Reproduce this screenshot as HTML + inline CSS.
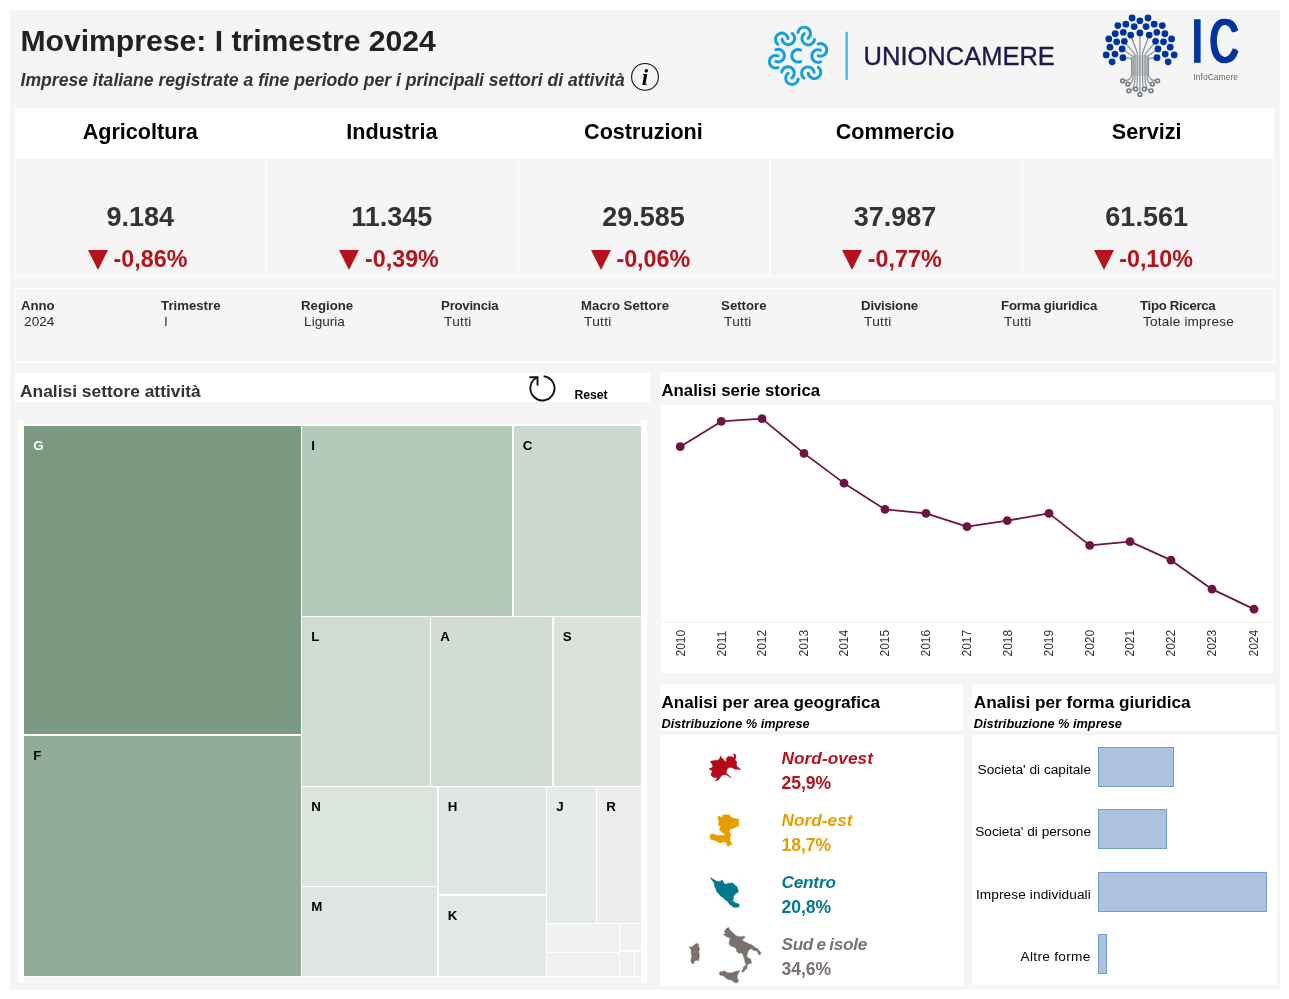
<!DOCTYPE html>
<html lang="it">
<head>
<meta charset="utf-8">
<title>Movimprese: I trimestre 2024</title>
<style>
html,body{margin:0;padding:0;background:#fff;}
body{width:1289px;height:999px;position:relative;overflow:hidden;font-family:"Liberation Sans",sans-serif;color:#333;}
.b{position:absolute;}
.t{position:absolute;white-space:nowrap;}
.bd{font-weight:bold;}
.it{font-style:italic;}
.k{color:#000;}
svg{position:absolute;overflow:visible;}
</style>
</head>
<body>

<div class="b " style="left:10px;top:10px;width:1270px;height:980px;background:#f5f5f5;"></div>
<header>
<div class="t bd" style="top:26.00px;font-size:30.15px;line-height:30.15px;left:20.4px;color:#222;">Movimprese: I trimestre 2024</div>
<div class="t bd it" style="top:72.00px;font-size:17.6px;line-height:17.6px;left:20.5px;color:#333;">Imprese italiane registrate a fine periodo per i principali settori di attività</div>
<svg style="left:630px;top:62px" width="30" height="30" viewBox="0 0 30 30"><circle cx="15" cy="14.9" r="13.4" fill="none" stroke="#111" stroke-width="1.1"/><text x="15" y="22.8" text-anchor="middle" font-family="Liberation Serif, serif" font-style="italic" font-weight="bold" font-size="23" fill="#000">i</text></svg>
<svg style="left:0;top:0" width="1289" height="110" viewBox="0 0 1289 110">
<g fill="none" stroke="#149fdc" stroke-width="2.9" stroke-linecap="round" transform="translate(798.1 55.8)">
<path d="M2.56 5.76A6.3 6.3 0 1 1 2.56 -5.76"/>
<g transform="rotate(0)">
<path d="M22.36 6.04A6.3 6.3 0 1 1 22.36 -5.64"/>
<path d="M20.04 -11.74A6.3 6.3 0 1 1 20.04 -0.06"/>
</g>
<g transform="rotate(-60)">
<path d="M22.36 6.04A6.3 6.3 0 1 1 22.36 -5.64"/>
<path d="M20.04 -11.74A6.3 6.3 0 1 1 20.04 -0.06"/>
</g>
<g transform="rotate(-120)">
<path d="M22.36 6.04A6.3 6.3 0 1 1 22.36 -5.64"/>
<path d="M20.04 -11.74A6.3 6.3 0 1 1 20.04 -0.06"/>
</g>
<g transform="rotate(-180)">
<path d="M22.36 6.04A6.3 6.3 0 1 1 22.36 -5.64"/>
<path d="M20.04 -11.74A6.3 6.3 0 1 1 20.04 -0.06"/>
</g>
<g transform="rotate(-240)">
<path d="M22.36 6.04A6.3 6.3 0 1 1 22.36 -5.64"/>
<path d="M20.04 -11.74A6.3 6.3 0 1 1 20.04 -0.06"/>
</g>
<g transform="rotate(-300)">
<path d="M22.36 6.04A6.3 6.3 0 1 1 22.36 -5.64"/>
<path d="M20.04 -11.74A6.3 6.3 0 1 1 20.04 -0.06"/>
</g>
</g>
<rect x="845.5" y="31.8" width="2.4" height="48" fill="#4db8ea"/>
<text x="863.6" y="64.9" font-family="Liberation Sans, sans-serif" font-size="25.5" fill="#1c1a4a" stroke="#1c1a4a" stroke-width="0.35">UNIONCAMERE</text>
<g fill="none" stroke="#8b9197" stroke-width="1.25">
<path d="M1130.7 35.1L1137.3 52.7L1137.3 76.5Q1137.3 89.1 1135.7 89.1"/>
<path d="M1139.9 32.9L1139.9 52.7L1139.9 76.5Q1139.9 94.4 1139.9 94.4"/>
<path d="M1149.2 35.1L1142.6 52.7L1142.6 76.5Q1142.6 89.1 1144.2 89.1"/>
<path d="M1124.3 41.3L1135.0 54.6L1135.0 76.5Q1135.0 90.8 1128.8 90.8"/>
<path d="M1155.6 41.3L1145.0 54.6L1145.0 76.5Q1145.0 90.8 1151.1 90.8"/>
<path d="M1122.1 48.9L1133.1 56.5L1133.1 76.0Q1133.1 84.1 1127.8 84.1"/>
<path d="M1158.0 48.9L1147.1 56.5L1147.1 76.0Q1147.1 84.1 1152.4 84.1"/>
<path d="M1122.9 57.7L1131.6 58.4L1131.6 74.6Q1131.6 80.8 1122.6 80.8"/>
<path d="M1157.0 57.7L1148.5 58.4L1148.5 74.6Q1148.5 80.8 1157.6 80.8"/>
</g>
<rect x="1131.6" y="55" width="17.2" height="21" fill="#9aa0a6" opacity="0.45"/>
<g fill="#f5f5f5" stroke="#70767c" stroke-width="1.5">
<circle cx="1122.6" cy="80.8" r="1.9"/>
<circle cx="1127.8" cy="84.1" r="1.9"/>
<circle cx="1128.8" cy="90.8" r="1.9"/>
<circle cx="1135.7" cy="89.1" r="1.9"/>
<circle cx="1139.9" cy="94.4" r="1.9"/>
<circle cx="1144.2" cy="89.1" r="1.9"/>
<circle cx="1151.1" cy="90.8" r="1.9"/>
<circle cx="1152.4" cy="84.1" r="1.9"/>
<circle cx="1157.6" cy="80.8" r="1.9"/>
</g>
<g fill="#0032a0">
<circle cx="1132.1" cy="18.0" r="3.4"/>
<circle cx="1139.9" cy="20.8" r="3.4"/>
<circle cx="1148.0" cy="18.0" r="3.4"/>
<circle cx="1125.9" cy="24.2" r="3.4"/>
<circle cx="1134.2" cy="26.6" r="3.4"/>
<circle cx="1146.1" cy="26.6" r="3.4"/>
<circle cx="1154.2" cy="24.2" r="3.4"/>
<circle cx="1117.8" cy="25.6" r="3.4"/>
<circle cx="1162.3" cy="25.6" r="3.4"/>
<circle cx="1123.3" cy="32.3" r="3.4"/>
<circle cx="1130.7" cy="35.1" r="3.4"/>
<circle cx="1139.9" cy="32.9" r="3.4"/>
<circle cx="1149.2" cy="35.1" r="3.4"/>
<circle cx="1156.8" cy="32.3" r="3.4"/>
<circle cx="1115.2" cy="33.7" r="3.4"/>
<circle cx="1164.9" cy="33.7" r="3.4"/>
<circle cx="1108.8" cy="38.9" r="3.4"/>
<circle cx="1171.6" cy="38.9" r="3.4"/>
<circle cx="1116.7" cy="41.8" r="3.4"/>
<circle cx="1124.3" cy="41.3" r="3.4"/>
<circle cx="1155.6" cy="41.3" r="3.4"/>
<circle cx="1163.5" cy="41.8" r="3.4"/>
<circle cx="1110.0" cy="47.2" r="3.4"/>
<circle cx="1122.1" cy="48.9" r="3.4"/>
<circle cx="1158.0" cy="48.9" r="3.4"/>
<circle cx="1170.2" cy="47.2" r="3.4"/>
<circle cx="1106.2" cy="54.9" r="3.4"/>
<circle cx="1115.0" cy="54.1" r="3.4"/>
<circle cx="1165.2" cy="54.1" r="3.4"/>
<circle cx="1174.2" cy="54.9" r="3.4"/>
<circle cx="1122.9" cy="57.7" r="3.4"/>
<circle cx="1157.0" cy="57.7" r="3.4"/>
<circle cx="1112.1" cy="61.8" r="3.4"/>
<circle cx="1168.1" cy="61.8" r="3.4"/>
</g>
<defs><filter id="fat" x="-10%" y="-10%" width="120%" height="120%"><feMorphology operator="dilate" radius="1.6 0.1"/></filter></defs>
<text transform="translate(1191.8 62) scale(0.646 1)" font-family="Liberation Sans, sans-serif" font-size="61.5" letter-spacing="10.6" fill="#0032a0" stroke="#0032a0" stroke-width="1.3" filter="url(#fat)">IC</text>
<text x="1193.5" y="79.8" font-family="Liberation Sans, sans-serif" font-size="8.6" fill="#666" textLength="44.5" lengthAdjust="spacingAndGlyphs">InfoCamere</text>
</svg>
</header>
<section>
<div class="b " style="left:15px;top:108px;width:1259.2px;height:169px;background:#fff;"></div>
<div class="b " style="left:16px;top:159px;width:249.8px;height:116.8px;background:#f5f5f5;"></div>
<div class="t bd k" style="top:121.00px;font-size:21.6px;line-height:21.6px;left:140.25px;transform:translateX(-50%);">Agricoltura</div>
<div class="t bd" style="top:204.00px;font-size:27px;line-height:27px;left:140.25px;transform:translateX(-50%);color:#333;">9.184</div>
<svg style="left:88.0px;top:250px" width="20" height="20" viewBox="0 0 20 20"><path d="M0 0H20L10 20Z" fill="#b5121b"/></svg>
<div class="t bd" style="top:248.00px;font-size:23.3px;line-height:23.3px;left:113.6px;color:#b5121b;">-0,86%</div>
<div class="b " style="left:267.2px;top:159px;width:250.7px;height:116.8px;background:#f5f5f5;"></div>
<div class="t bd k" style="top:121.00px;font-size:21.6px;line-height:21.6px;left:391.85px;transform:translateX(-50%);">Industria</div>
<div class="t bd" style="top:204.00px;font-size:27px;line-height:27px;left:391.85px;transform:translateX(-50%);color:#333;">11.345</div>
<svg style="left:339.4px;top:250px" width="20" height="20" viewBox="0 0 20 20"><path d="M0 0H20L10 20Z" fill="#b5121b"/></svg>
<div class="t bd" style="top:248.00px;font-size:23.3px;line-height:23.3px;left:365.0px;color:#b5121b;">-0,39%</div>
<div class="b " style="left:519.3px;top:159px;width:249.5px;height:116.8px;background:#f5f5f5;"></div>
<div class="t bd k" style="top:121.00px;font-size:21.6px;line-height:21.6px;left:643.45px;transform:translateX(-50%);">Costruzioni</div>
<div class="t bd" style="top:204.00px;font-size:27px;line-height:27px;left:643.45px;transform:translateX(-50%);color:#333;">29.585</div>
<svg style="left:590.8px;top:250px" width="20" height="20" viewBox="0 0 20 20"><path d="M0 0H20L10 20Z" fill="#b5121b"/></svg>
<div class="t bd" style="top:248.00px;font-size:23.3px;line-height:23.3px;left:616.4px;color:#b5121b;">-0,06%</div>
<div class="b " style="left:771.3px;top:159px;width:250.6px;height:116.8px;background:#f5f5f5;"></div>
<div class="t bd k" style="top:121.00px;font-size:21.6px;line-height:21.6px;left:895.05px;transform:translateX(-50%);">Commercio</div>
<div class="t bd" style="top:204.00px;font-size:27px;line-height:27px;left:895.05px;transform:translateX(-50%);color:#333;">37.987</div>
<svg style="left:842.2px;top:250px" width="20" height="20" viewBox="0 0 20 20"><path d="M0 0H20L10 20Z" fill="#b5121b"/></svg>
<div class="t bd" style="top:248.00px;font-size:23.3px;line-height:23.3px;left:867.8px;color:#b5121b;">-0,77%</div>
<div class="b " style="left:1023.3px;top:159px;width:249.5px;height:116.8px;background:#f5f5f5;"></div>
<div class="t bd k" style="top:121.00px;font-size:21.6px;line-height:21.6px;left:1146.65px;transform:translateX(-50%);">Servizi</div>
<div class="t bd" style="top:204.00px;font-size:27px;line-height:27px;left:1146.65px;transform:translateX(-50%);color:#333;">61.561</div>
<svg style="left:1093.6px;top:250px" width="20" height="20" viewBox="0 0 20 20"><path d="M0 0H20L10 20Z" fill="#b5121b"/></svg>
<div class="t bd" style="top:248.00px;font-size:23.3px;line-height:23.3px;left:1119.2px;color:#b5121b;">-0,10%</div>
</section>
<section>
<div class="b " style="left:15px;top:288px;width:1260px;height:75px;background:#fff;"></div>
<div class="b " style="left:16.1px;top:289px;width:1257.7px;height:71.9px;background:#f5f5f5;"></div>
<div class="t bd" style="top:299.00px;font-size:13.2px;line-height:13.2px;left:21.1px;color:#2b2b2b;letter-spacing:-0.1px;">Anno</div>
<div class="t " style="top:315.00px;font-size:13.55px;line-height:13.55px;left:24.1px;color:#2b2b2b;">2024</div>
<div class="t bd" style="top:299.00px;font-size:13.2px;line-height:13.2px;left:161.1px;color:#2b2b2b;">Trimestre</div>
<div class="t " style="top:315.00px;font-size:13.55px;line-height:13.55px;left:164.1px;color:#2b2b2b;">I</div>
<div class="t bd" style="top:299.00px;font-size:13.2px;line-height:13.2px;left:301.1px;color:#2b2b2b;">Regione</div>
<div class="t " style="top:315.00px;font-size:13.55px;line-height:13.55px;left:304.1px;color:#2b2b2b;">Liguria</div>
<div class="t bd" style="top:299.00px;font-size:13.2px;line-height:13.2px;left:441.1px;color:#2b2b2b;letter-spacing:-0.25px;">Provincia</div>
<div class="t " style="top:315.00px;font-size:13.55px;line-height:13.55px;left:444.1px;color:#2b2b2b;letter-spacing:0.35px;">Tutti</div>
<div class="t bd" style="top:299.00px;font-size:13.2px;line-height:13.2px;left:581.1px;color:#2b2b2b;">Macro Settore</div>
<div class="t " style="top:315.00px;font-size:13.55px;line-height:13.55px;left:584.1px;color:#2b2b2b;letter-spacing:0.35px;">Tutti</div>
<div class="t bd" style="top:299.00px;font-size:13.2px;line-height:13.2px;left:721.1px;color:#2b2b2b;">Settore</div>
<div class="t " style="top:315.00px;font-size:13.55px;line-height:13.55px;left:724.1px;color:#2b2b2b;letter-spacing:0.35px;">Tutti</div>
<div class="t bd" style="top:299.00px;font-size:13.2px;line-height:13.2px;left:861.1px;color:#2b2b2b;letter-spacing:-0.2px;">Divisione</div>
<div class="t " style="top:315.00px;font-size:13.55px;line-height:13.55px;left:864.1px;color:#2b2b2b;letter-spacing:0.35px;">Tutti</div>
<div class="t bd" style="top:299.00px;font-size:13.2px;line-height:13.2px;left:1001.1px;color:#2b2b2b;letter-spacing:-0.2px;">Forma giuridica</div>
<div class="t " style="top:315.00px;font-size:13.55px;line-height:13.55px;left:1004.1px;color:#2b2b2b;letter-spacing:0.35px;">Tutti</div>
<div class="t bd" style="top:299.00px;font-size:13.2px;line-height:13.2px;left:1140.1px;color:#2b2b2b;letter-spacing:-0.3px;">Tipo Ricerca</div>
<div class="t " style="top:315.00px;font-size:13.55px;line-height:13.55px;left:1143.1px;color:#2b2b2b;letter-spacing:0.2px;">Totale imprese</div>
</section>
<section>
<div class="b " style="left:15px;top:372.8px;width:635px;height:29.6px;background:#fff;"></div>
<div class="t bd" style="top:383.00px;font-size:17.4px;line-height:17.4px;left:20px;color:#333;">Analisi settore attività</div>
<svg style="left:527px;top:373px" width="32" height="32" viewBox="527 373 32 32"><g fill="none" stroke="#111" stroke-width="1.9"><path d="M543.66 376.27A12.1 12.1 0 1 1 536.91 377.52"/><path d="M529.4 377.3H537.5V385.4"/></g></svg>
<div class="t bd k" style="top:389.00px;font-size:12.2px;line-height:12.2px;left:574.4px;">Reset</div>
<div class="b " style="left:18px;top:420px;width:629px;height:563px;background:#fff;"></div>
<div class="b " style="left:24px;top:977px;width:617px;height:7px;background:#f5f5f5;"></div>
<div class="b " style="left:24px;top:420px;width:617px;height:4px;background:#f5f5f5;"></div>
<div class="b " style="left:24px;top:426px;width:276.5px;height:308px;background:#7b9980;"></div>
<div class="t bd" style="top:439.00px;font-size:13.3px;line-height:13.3px;left:33.3px;color:#fff;">G</div>
<div class="b " style="left:24px;top:735.5px;width:276.5px;height:240.5px;background:#92ad97;"></div>
<div class="t bd" style="top:749.00px;font-size:13.3px;line-height:13.3px;left:33.3px;color:#000;">F</div>
<div class="b " style="left:302px;top:426px;width:210px;height:189.5px;background:#b3c9ba;"></div>
<div class="t bd" style="top:439.00px;font-size:13.3px;line-height:13.3px;left:311.3px;color:#000;">I</div>
<div class="b " style="left:513.5px;top:426px;width:127.5px;height:189.5px;background:#cad8ce;"></div>
<div class="t bd" style="top:439.00px;font-size:13.3px;line-height:13.3px;left:522.8px;color:#000;">C</div>
<div class="b " style="left:302px;top:617px;width:128px;height:168.5px;background:#d0dbd3;"></div>
<div class="t bd" style="top:630.00px;font-size:13.3px;line-height:13.3px;left:311.3px;color:#000;">L</div>
<div class="b " style="left:431px;top:617px;width:121px;height:168.5px;background:#d2dcd4;"></div>
<div class="t bd" style="top:630.00px;font-size:13.3px;line-height:13.3px;left:440.3px;color:#000;">A</div>
<div class="b " style="left:553.5px;top:617px;width:87.5px;height:168.5px;background:#dbe2dc;"></div>
<div class="t bd" style="top:630.00px;font-size:13.3px;line-height:13.3px;left:562.8px;color:#000;">S</div>
<div class="b " style="left:302px;top:787px;width:135px;height:98.5px;background:#dbe4dd;"></div>
<div class="t bd" style="top:800.00px;font-size:13.3px;line-height:13.3px;left:311.3px;color:#000;">N</div>
<div class="b " style="left:302px;top:887px;width:135px;height:89px;background:#dfe5e1;"></div>
<div class="t bd" style="top:900.00px;font-size:13.3px;line-height:13.3px;left:311.3px;color:#000;">M</div>
<div class="b " style="left:438.5px;top:787px;width:107.0px;height:106.5px;background:#e0e6e2;"></div>
<div class="t bd" style="top:800.00px;font-size:13.3px;line-height:13.3px;left:447.8px;color:#000;">H</div>
<div class="b " style="left:438.5px;top:895.5px;width:107.0px;height:80.5px;background:#e3e8e4;"></div>
<div class="t bd" style="top:909.00px;font-size:13.3px;line-height:13.3px;left:447.8px;color:#000;">K</div>
<div class="b " style="left:547px;top:787px;width:48.5px;height:135.5px;background:#e6eae7;"></div>
<div class="t bd" style="top:800.00px;font-size:13.3px;line-height:13.3px;left:556.3px;color:#000;">J</div>
<div class="b " style="left:597px;top:787px;width:44px;height:135.5px;background:#ebedeb;"></div>
<div class="t bd" style="top:800.00px;font-size:13.3px;line-height:13.3px;left:606.3px;color:#000;">R</div>
<div class="b " style="left:547px;top:924px;width:71.5px;height:27.5px;background:#f0f0f0;"></div>
<div class="b " style="left:547px;top:952.8px;width:71.5px;height:23.2px;background:#f0f0f0;"></div>
<div class="b " style="left:620px;top:924px;width:21px;height:26.3px;background:#f0f0f0;"></div>
<div class="b " style="left:620px;top:951.8px;width:13.8px;height:24.2px;background:#f0f0f0;"></div>
<div class="b " style="left:635px;top:951.8px;width:6px;height:24.2px;background:#f0f0f0;"></div>
</section>
<section>
<div class="b " style="left:660px;top:372px;width:614.5px;height:28px;background:#fff;"></div>
<div class="t bd k" style="top:383.00px;font-size:16.8px;line-height:16.8px;left:661.5px;">Analisi serie storica</div>
<div class="b " style="left:660.6px;top:405px;width:612.8px;height:267.5px;background:#fff;"></div>
<div class="b " style="left:660.5px;top:622px;width:613px;height:1px;background:#efefef;"></div>
<svg style="left:0;top:400px" width="1289" height="280" viewBox="0 400 1289 280">
<polyline fill="none" stroke="#6f1440" stroke-width="1.8" stroke-linejoin="round" points="680.25,446.65 721.25,421.4 762,418.65 804,453.4 844,483.15 885,509.4 926,513.4 967,526.65 1007.25,520.65 1049,513.4 1089.75,545.4 1130,541.65 1171,560.15 1212,589.15 1254,609.15"/>
<g fill="#6f1440"><circle cx="680.25" cy="446.65" r="4.4"/><circle cx="721.25" cy="421.4" r="4.4"/><circle cx="762" cy="418.65" r="4.4"/><circle cx="804" cy="453.4" r="4.4"/><circle cx="844" cy="483.15" r="4.4"/><circle cx="885" cy="509.4" r="4.4"/><circle cx="926" cy="513.4" r="4.4"/><circle cx="967" cy="526.65" r="4.4"/><circle cx="1007.25" cy="520.65" r="4.4"/><circle cx="1049" cy="513.4" r="4.4"/><circle cx="1089.75" cy="545.4" r="4.4"/><circle cx="1130" cy="541.65" r="4.4"/><circle cx="1171" cy="560.15" r="4.4"/><circle cx="1212" cy="589.15" r="4.4"/><circle cx="1254" cy="609.15" r="4.4"/></g>
<g font-family="Liberation Sans, sans-serif" font-size="12" fill="#333">
<text transform="translate(684.55 656.5) rotate(-90)">2010</text>
<text transform="translate(725.55 656.5) rotate(-90)">2011</text>
<text transform="translate(766.30 656.5) rotate(-90)">2012</text>
<text transform="translate(808.30 656.5) rotate(-90)">2013</text>
<text transform="translate(848.30 656.5) rotate(-90)">2014</text>
<text transform="translate(889.30 656.5) rotate(-90)">2015</text>
<text transform="translate(930.30 656.5) rotate(-90)">2016</text>
<text transform="translate(971.30 656.5) rotate(-90)">2017</text>
<text transform="translate(1011.55 656.5) rotate(-90)">2018</text>
<text transform="translate(1053.30 656.5) rotate(-90)">2019</text>
<text transform="translate(1094.05 656.5) rotate(-90)">2020</text>
<text transform="translate(1134.30 656.5) rotate(-90)">2021</text>
<text transform="translate(1175.30 656.5) rotate(-90)">2022</text>
<text transform="translate(1216.30 656.5) rotate(-90)">2023</text>
<text transform="translate(1258.30 656.5) rotate(-90)">2024</text>
</g></svg>
</section>
<section>
<div class="b " style="left:660px;top:683.8px;width:303px;height:47.5px;background:#fff;"></div>
<div class="t bd k" style="top:694.00px;font-size:17.1px;line-height:17.1px;left:661.5px;">Analisi per area geografica</div>
<div class="t bd it k" style="top:718.00px;font-size:12.75px;line-height:12.75px;left:661.5px;">Distribuzione % imprese</div>
<div class="b " style="left:660px;top:735px;width:304px;height:251px;background:#fff;"></div>
<svg style="left:0;top:734px" width="1289" height="252" viewBox="0 734 1289 252">
<path d="M710.13 761.38L712.76 760.68L715.21 760.16L718.01 760.33L719.41 758.76L720.46 755.78L721.51 757.71L723.44 759.28L725.37 762.08L726.42 760.16L726.07 758.76L727.82 756.65L728.17 755.95L729.22 756.83L731.15 756.13L732.37 757.36L733.77 757.53L734.12 755.25L733.07 754.20L734.47 753.85L736.05 755.25L735.87 758.06L735.17 759.81L736.92 762.26L736.57 764.71L737.10 766.81L738.68 767.51L740.78 769.44L738.68 769.79L737.63 769.09L736.22 769.79L733.42 768.56L732.37 767.69L730.62 767.51L728.52 767.86L727.29 769.26L726.77 771.02L726.07 773.12L727.82 774.17L729.57 775.92L731.15 777.67L730.27 777.85L728.52 776.27L726.42 775.04L723.96 774.69L722.21 775.22L720.46 777.32L718.71 779.77L716.26 781.00L715.21 780.65L716.96 778.72L715.91 777.32L714.16 777.67L712.06 776.62L710.83 775.04L711.36 773.12L712.41 771.37L711.53 770.49L709.25 769.26L709.25 768.21L711.71 767.86L712.76 766.46L712.06 764.01L710.65 762.26Z" fill="#b5091c" stroke="#b5091c" stroke-width="0.3" stroke-linejoin="round"/>
<path d="M718.01 816.21L719.82 816.21L720.62 817.21L722.02 817.01L722.82 815.21L725.22 814.40L727.22 815.01L728.42 814.20L729.63 815.61L731.03 817.41L733.63 818.21L737.23 819.01L739.84 819.41L738.23 821.01L738.03 822.01L739.24 822.81L738.43 824.01L739.04 826.02L738.23 826.62L737.03 825.82L735.63 827.42L733.83 828.62L731.63 828.82L730.23 829.82L729.23 831.62L730.43 833.62L731.23 835.23L730.23 835.63L730.03 838.03L730.23 840.83L731.23 843.03L732.63 844.43L731.63 844.63L730.03 844.83L728.62 846.24L727.22 845.64L726.42 844.43L727.22 843.23L725.62 842.43L723.62 841.83L721.62 842.83L720.02 842.63L718.41 842.63L717.21 841.43L715.21 840.83L713.61 839.63L712.41 840.03L711.21 839.63L710.01 837.63L710.21 834.42L712.01 834.22L714.01 834.02L716.01 835.03L718.01 835.63L719.42 835.23L721.22 835.23L724.42 835.43L724.82 834.42L723.62 833.22L721.62 832.22L720.02 830.42L719.42 828.82L720.22 827.02L720.82 826.02L718.21 825.42L718.61 823.61L719.02 821.21L718.01 818.81Z" fill="#e69d00" stroke="#e69d00" stroke-width="0.3" stroke-linejoin="round"/>
<path d="M710.56 878.18L711.52 877.61L713.04 879.14L714.94 880.09L716.27 881.04L718.55 881.42L720.83 881.04L721.60 880.09L722.74 880.47L723.50 882.37L724.64 883.70L726.54 884.27L727.49 883.13L729.20 882.94L730.72 883.51L731.48 882.56L733.01 883.32L734.91 885.03L736.81 886.36L737.76 888.45L738.14 890.36L738.71 891.50L737.57 892.64L736.05 893.21L734.91 894.54L733.77 895.68L733.58 897.20L733.96 898.34L733.01 899.48L732.63 900.63L734.15 901.77L735.67 903.10L737.95 903.48L739.47 904.62L739.09 906.33L738.14 907.47L736.43 907.28L734.53 907.47L733.01 907.09L731.48 905.57L729.96 904.81L728.44 902.91L727.30 901.20L725.40 900.06L724.07 898.72L722.74 897.20L720.83 896.44L719.31 894.54L717.79 893.02L716.46 891.50L716.08 889.60L714.94 887.31L714.18 885.41L714.18 883.13L712.85 881.23L711.33 879.33Z" fill="#04788c" stroke="#04788c" stroke-width="0.3" stroke-linejoin="round"/>
<path d="M728.59 927.28L729.91 929.93L732.56 932.24L735.20 934.88L737.84 936.53L741.14 936.53L744.78 936.20L744.78 937.85L742.46 939.50L743.12 940.82L745.77 942.15L749.07 943.80L752.37 945.12L755.01 947.43L757.66 948.42L759.31 950.73L760.96 952.38L760.63 954.36L759.31 955.03L757.99 953.70L757.66 951.72L756.00 950.73L753.36 950.73L752.37 949.08L750.06 949.08L748.41 951.06L747.42 953.70L746.76 956.68L748.41 958.00L750.72 958.99L751.38 961.63L751.38 963.61L749.40 963.61L747.42 964.93L746.76 966.91L747.42 968.24L745.44 969.23L744.11 971.54L742.46 972.20L741.47 971.21L742.79 969.56L743.45 966.91L744.78 965.92L746.10 964.27L744.78 961.63L744.45 958.99L743.45 957.01L742.79 954.36L741.14 953.04L738.83 953.37L736.85 951.72L736.19 949.08L735.20 947.76L732.56 946.77L730.24 945.78L728.92 943.14L729.25 941.15L730.24 939.50L729.25 937.85L726.61 936.86L723.31 934.55L725.29 933.56L724.30 931.25L726.28 928.61Z" fill="#7a716f" stroke="#7a716f" stroke-width="0.3" stroke-linejoin="round"/>
<path d="M719.35 972.53L720.67 971.54L722.65 971.87L724.30 970.55L726.28 972.20L728.59 972.86L732.56 972.53L735.86 971.21L739.82 970.55L738.17 973.52L737.18 976.16L737.51 978.80L738.83 980.45L737.18 982.77L735.20 982.77L733.22 981.78L731.57 980.12L728.59 979.79L725.95 978.14L723.31 975.83L720.67 975.50L719.35 974.18Z" fill="#7a716f" stroke="#7a716f" stroke-width="0.3" stroke-linejoin="round"/>
<path d="M688.96 946.77L691.27 947.10L693.59 945.78L694.91 944.13L696.89 943.14L698.87 944.46L698.54 946.11L699.86 949.08L698.87 951.72L699.53 955.03L699.20 957.67L698.54 960.97L696.56 960.31L694.58 960.97L693.92 963.61L692.27 963.61L690.94 961.96L690.94 958.99L691.94 956.35L690.94 953.70L691.27 950.40L690.28 948.42Z" fill="#7a716f" stroke="#7a716f" stroke-width="0.3" stroke-linejoin="round"/>
</svg>
<div class="t bd it" style="top:750.00px;font-size:17.2px;line-height:17.2px;left:781.5px;color:#b5121b;letter-spacing:0.08px;">Nord-ovest</div>
<div class="t bd" style="top:775.00px;font-size:17.55px;line-height:17.55px;left:781.5px;color:#b5121b;">25,9%</div>
<div class="t bd it" style="top:812.00px;font-size:17.2px;line-height:17.2px;left:781.5px;color:#e69d00;letter-spacing:0.06px;">Nord-est</div>
<div class="t bd" style="top:837.00px;font-size:17.55px;line-height:17.55px;left:781.5px;color:#e69d00;">18,7%</div>
<div class="t bd it" style="top:874.00px;font-size:17.2px;line-height:17.2px;left:781.5px;color:#04788c;letter-spacing:-0.2px;">Centro</div>
<div class="t bd" style="top:899.00px;font-size:17.55px;line-height:17.55px;left:781.5px;color:#04788c;">20,8%</div>
<div class="t bd it" style="top:936.00px;font-size:17.2px;line-height:17.2px;left:781.5px;color:#7a716f;letter-spacing:-0.3px;word-spacing:-1px;">Sud e isole</div>
<div class="t bd" style="top:961.00px;font-size:17.55px;line-height:17.55px;left:781.5px;color:#7a716f;">34,6%</div>
</section>
<section>
<div class="b " style="left:972px;top:683.8px;width:302.5px;height:47px;background:#fff;"></div>
<div class="t bd k" style="top:694.00px;font-size:17.2px;line-height:17.2px;left:973.8px;">Analisi per forma giuridica</div>
<div class="t bd it k" style="top:718.00px;font-size:12.75px;line-height:12.75px;left:973.8px;">Distribuzione % imprese</div>
<div class="b " style="left:972px;top:735px;width:304.6px;height:250px;background:#fff;"></div>
<div class="b " style="left:1098px;top:747px;width:75.75px;height:39.5px;background:#adc1e0;box-sizing:border-box;border:1px solid #6f9fcd;"></div>
<div class="t " style="top:763.00px;font-size:13.66px;line-height:13.66px;left:1091px;transform:translateX(-100%);color:#000;">Societa' di capitale</div>
<div class="b " style="left:1098px;top:809.25px;width:68.75px;height:39.5px;background:#adc1e0;box-sizing:border-box;border:1px solid #6f9fcd;"></div>
<div class="t " style="top:825.00px;font-size:13.66px;line-height:13.66px;left:1091px;transform:translateX(-100%);color:#000;">Societa' di persone</div>
<div class="b " style="left:1098px;top:872px;width:168.75px;height:39.5px;background:#adc1e0;box-sizing:border-box;border:1px solid #6f9fcd;"></div>
<div class="t " style="top:888.00px;font-size:13.66px;line-height:13.66px;left:1090.9px;transform:translateX(-100%);color:#000;letter-spacing:0.1px;">Imprese individuali</div>
<div class="b " style="left:1098px;top:934px;width:8.8px;height:39.5px;background:#adc1e0;box-sizing:border-box;border:1px solid #6f9fcd;"></div>
<div class="t " style="top:950.00px;font-size:13.66px;line-height:13.66px;left:1090.7px;transform:translateX(-100%);color:#000;letter-spacing:0.3px;">Altre forme</div>
</section>
</body>
</html>
